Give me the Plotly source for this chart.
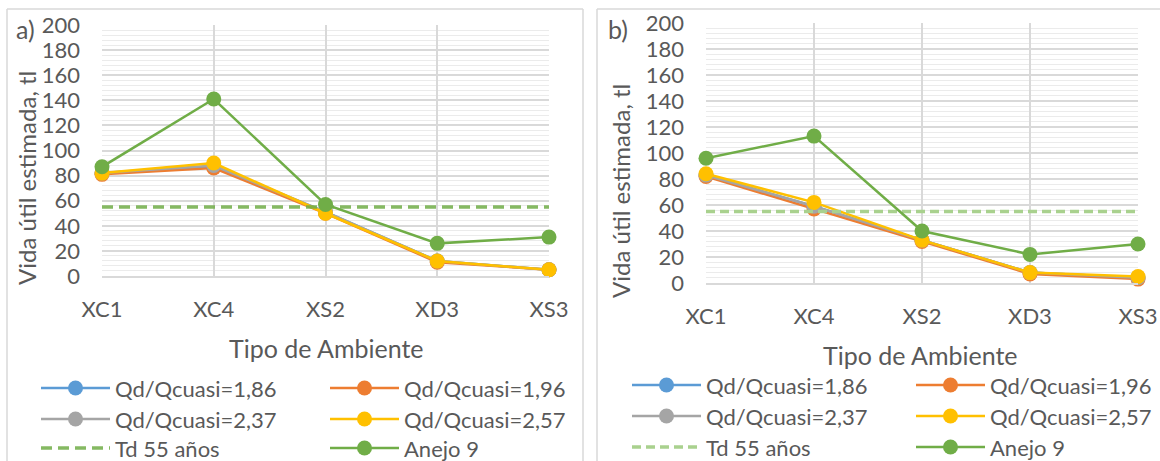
import plotly.graph_objects as go

W, H = 1160, 461

categories = ["XC1", "XC4", "XS2", "XD3", "XS3"]
series_names = ["Qd/Qcuasi=1,86", "Qd/Qcuasi=1,96", "Qd/Qcuasi=2,37", "Qd/Qcuasi=2,57", "Td 55 años", "Anejo 9"]

# panel a)
a_186 = [82, 87, 51, 12, 5]
a_196 = [81, 86, 50, 11, 5]
a_237 = [82, 88, 51, 12, 5]
a_257 = [82, 90, 50, 12, 5]
a_td = [55, 55, 55, 55, 55]
a_anejo = [87, 141, 57, 26, 31]

# panel b)
b_186 = [83, 59, 33, 8, 4]
b_196 = [82, 57, 32, 7, 3]
b_237 = [83, 59, 33, 8, 4]
b_257 = [84, 62, 33, 8, 5]
b_td = [55, 55, 55, 55, 55]
b_anejo = [96, 113, 40, 22, 30]

y_ticks = [0, 20, 40, 60, 80, 100, 120, 140, 160, 180, 200]

FONT = "Lato"
TXT = "#595959"
GRID = "#d9d9d9"
FS = 25
FS_LEG = 22
FS_TICK = 22
FS_YT = 24

colors = ["#5b9bd5", "#ed7d31", "#a5a5a5", "#ffc000", None, "#70ad47"]


def px(x):
    return x / W


def py(y):
    return 1 - y / H


fig = go.Figure()

panels = [
    dict(vals=[a_186, a_196, a_237, a_257, a_td, a_anejo], xa="x", ya="y",
         legs=["legend", "legend2", "legend3"], tdcolor="rgba(112,173,71,0.85)", tddash="11px,6px",
         legx=36, legrows=[388, 419, 448], entry=205),
    dict(vals=[b_186, b_196, b_237, b_257, b_td, b_anejo], xa="x2", ya="y2",
         legs=["legend4", "legend5", "legend6"], tdcolor="#a9d18e", tddash="9px,5px",
         legx=627, legrows=[385, 416, 447], entry=200),
]

for p in panels:
    for i, (name, v) in enumerate(zip(series_names, p["vals"])):
        leg = p["legs"][i // 2]
        lw = 170 if i % 2 == 1 else p["entry"]
        if i == 4:
            fig.add_trace(go.Scatter(
                x=categories, y=v, name=name, mode="lines",
                line=dict(color=p["tdcolor"], width=3.5, dash=p["tddash"]),
                xaxis=p["xa"], yaxis=p["ya"], legend=leg, legendwidth=lw, cliponaxis=False,
            ))
        else:
            fig.add_trace(go.Scatter(
                x=categories, y=v, name=name, mode="lines+markers",
                line=dict(color=colors[i], width=2.5),
                marker=dict(color=colors[i], size=15),
                xaxis=p["xa"], yaxis=p["ya"], legend=leg, legendwidth=lw, cliponaxis=False,
            ))

common_x = dict(type="category", range=[0, 4], showgrid=True, gridcolor=GRID, gridwidth=1.5,
                showline=True, linecolor=GRID, linewidth=2, ticks="", zeroline=False,
                automargin=False,
                tickfont=dict(family=FONT, size=FS_TICK, color=TXT), ticklabelstandoff=13)
common_y = dict(range=[0, 200], tickvals=y_ticks, showgrid=True, gridcolor=GRID, gridwidth=1.5,
                zeroline=False, showline=False, ticks="", automargin=False,
                minor=dict(dtick=4, showgrid=True, gridcolor="#ebebeb", gridwidth=1),
                tickfont=dict(family=FONT, size=FS_TICK, color=TXT), ticklabelstandoff=21)

fig.update_layout(
    xaxis=dict(domain=[px(102), px(549)], anchor="y", **common_x),
    yaxis=dict(domain=[py(276), py(25)], anchor="x", **common_y),
    xaxis2=dict(domain=[px(706), px(1138)], anchor="y2", **common_x),
    yaxis2=dict(domain=[py(283), py(23)], anchor="x2", **common_y),
)

leg_common = dict(orientation="h", xanchor="left", yanchor="top", itemwidth=69,
                  entrywidthmode="pixels",
                  font=dict(family=FONT, size=FS_LEG, color=TXT), bgcolor="rgba(0,0,0,0)",
                  tracegroupgap=0, itemclick=False, itemdoubleclick=False)
item_h = FS_LEG * 1.3 + 3
for p in panels:
    for leg, yc in zip(p["legs"], p["legrows"]):
        fig.update_layout({leg: dict(x=px(p["legx"]), y=py(yc - item_h / 2 - 5),
                                     entrywidth=p["entry"], **leg_common)})

annots = [
    dict(text="a)", x=px(25), y=py(29), size=FS),
    dict(text="b)", x=px(618), y=py(29), size=FS),
    dict(text="Tipo de Ambiente", x=px(326), y=py(348), size=FS),
    dict(text="Tipo de Ambiente", x=px(920), y=py(355), size=FS),
    dict(text="Vida útil estimada, tl", x=px(26), y=py(178), textangle=-90, size=FS_YT),
    dict(text="Vida útil estimada, tl", x=px(621), y=py(191), textangle=-90, size=FS_YT),
]
for a in annots:
    size = a.pop("size")
    fig.add_annotation(xref="paper", yref="paper", xanchor="center", yanchor="middle",
                       showarrow=False, font=dict(family=FONT, size=size, color=TXT), **a)

border = dict(color=GRID, width=1.5)
shapes = [
    dict(type="line", x0=px(7), x1=px(7), y0=py(9), y1=py(470)),
    dict(type="line", x0=px(7), x1=px(583), y0=py(9), y1=py(9)),
    dict(type="line", x0=px(583), x1=px(583), y0=py(9), y1=py(470)),
    dict(type="line", x0=px(597), x1=px(597), y0=py(9), y1=py(470)),
    dict(type="line", x0=px(597), x1=px(1170), y0=py(9), y1=py(9)),
]
for s in shapes:
    fig.add_shape(xref="paper", yref="paper", line=border, **s)

fig.update_layout(
    width=W, height=H, margin=dict(l=0, r=0, t=0, b=0, autoexpand=False),
    paper_bgcolor="white", plot_bgcolor="white",
    font=dict(family=FONT, size=FS, color=TXT),
    hovermode=False,
)

fig.write_html("out.html", config={"displayModeBar": False})
